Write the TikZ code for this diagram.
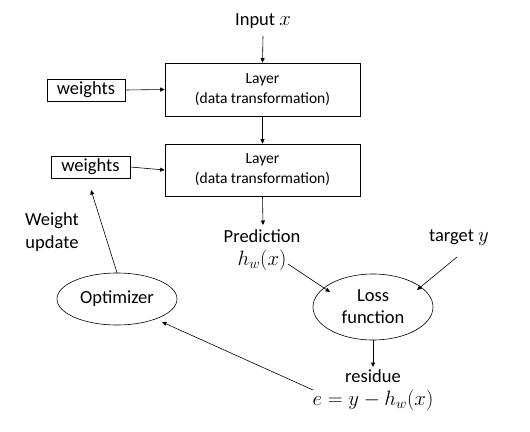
\documentclass[tikz,border=0pt]{standalone}
\usepackage{fontspec}
\setmainfont{Carlito}
\usetikzlibrary{arrows.meta,shapes.geometric}
\newcommand{\mx}[1]{{\fontsize{20.5}{23.5}\selectfont$#1$}}
\begin{document}
\begin{tikzpicture}[x=1pt,y=-1pt,
  arr/.style={-{Triangle[length=4.5pt,width=4pt]},line width=0.6pt},
  layerbox/.style={draw,line width=0.6pt,minimum width=195pt,minimum height=53pt,align=center,font=\fontsize{15.5}{20}\selectfont,inner sep=0pt},
  wbox/.style={draw,line width=0.6pt,minimum width=78pt,minimum height=22pt,inner sep=0pt,font=\fontsize{18.5}{19}\selectfont},
  oval/.style={draw,ellipse,line width=0.6pt,inner sep=0pt,align=center,font=\fontsize{18.5}{22}\selectfont},
  lbl/.style={align=center,inner sep=1pt,font=\fontsize{18.5}{23.5}\selectfont}]
\useasboundingbox (0,0) rectangle (530,431);
\node[lbl] (in) at (263,21) {Input \mx{x}};
\node[layerbox] (l1) at (262.5,89.5) {Layer\\(data transformation)};
\node[layerbox,minimum height=52pt] (l2) at (262.5,170) {Layer\\(data transformation)};
\node[wbox] (w1) at (86,90) {weights};
\node[wbox,minimum width=79pt] (w2) at (90.5,167) {weights};
\node[lbl] (pred) at (262,250) {Prediction\\\mx{h_w(x)}};
\node[lbl] (tgt) at (459,238) {target \mx{y}};
\node[oval,minimum width=120pt,minimum height=66pt] (loss) at (373,307) {Loss\\function};
\node[oval,minimum width=120pt,minimum height=52pt] (opt) at (117,299) {Optimizer};
\node[lbl] (res) at (373,390) {residue\\\mx{e=y-h_w(x)}};
\node[lbl] (wu) at (52,232) {Weight\\update};
\coordinate (predin) at (263,225);
\coordinate (hend) at (288,264);
\coordinate (tstart) at (457,257);
\coordinate (rstart) at (313,390);
\coordinate (wtip) at (91,190);
\draw[arr] (263,36) -- (l1.north);
\draw[arr] (l1.south) -- (l2.north);
\draw[arr] (w1.east) -- (l1.west);
\draw[arr] (w2.east) -- (l2.west);
\draw[arr] (l2.south) -- (predin);
\draw[arr] (hend) -- (330,292);
\draw[arr] (tstart) -- (417,290);
\draw[arr] (loss.south) -- (373,367);
\draw[arr] (rstart) -- (162,322);
\draw[arr] (opt.north) -- (wtip);
\end{tikzpicture}
\end{document}
